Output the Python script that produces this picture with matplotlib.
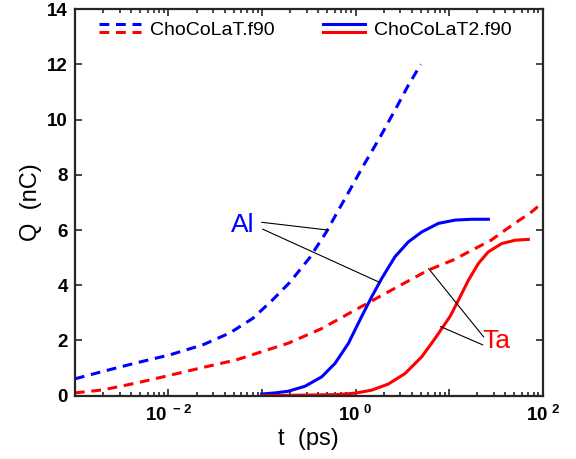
import numpy as np
import matplotlib
matplotlib.use('Agg')
import matplotlib.pyplot as plt
from matplotlib.legend_handler import HandlerBase
from matplotlib.lines import Line2D
from matplotlib.ticker import FixedLocator, LogLocator, NullFormatter, FuncFormatter

plt.rcParams['font.family'] = 'Liberation Sans'
plt.rcParams['mathtext.fontset'] = 'custom'
plt.rcParams['mathtext.rm'] = 'Liberation Sans:bold'
plt.rcParams['mathtext.bf'] = 'Liberation Sans:bold'

# ChoCoLaT.f90 (dashed)
t_al_v1 = [0.001, 0.002, 0.00457, 0.0104, 0.0233, 0.0453, 0.0798, 0.130, 0.198,
           0.324, 0.492, 0.630, 0.867, 1.19, 1.82, 2.75, 3.61, 4.98]
q_al_v1 = [0.61, 0.88, 1.19, 1.48, 1.84, 2.27, 2.80, 3.47, 4.10,
           5.00, 5.95, 6.61, 7.44, 8.28, 9.35, 10.45, 11.2, 12.0]
t_ta_v1 = [0.001, 0.002, 0.00457, 0.0104, 0.0233, 0.0537, 0.191, 0.435,
           0.989, 2.24, 6.01, 11.0, 28.1, 48.3, 76.6, 100.0]
q_ta_v1 = [0.10, 0.21, 0.46, 0.74, 1.02, 1.30, 1.90, 2.43,
           3.10, 3.76, 4.55, 4.91, 5.63, 6.20, 6.66, 7.00]

# ChoCoLaT2.f90 (solid)
t_al_v2 = [0.0993, 0.138, 0.191, 0.288, 0.435, 0.604, 0.838, 1.16, 1.49,
           1.91, 2.64, 3.67, 5.11, 7.69, 11.6, 17.5, 26.3]
q_al_v2 = [0.06, 0.10, 0.16, 0.34, 0.68, 1.17, 1.89, 2.86, 3.58,
           4.25, 5.03, 5.57, 5.93, 6.24, 6.36, 6.39, 6.39]
t_ta_v2 = [0.103, 0.288, 0.655, 0.989, 1.49, 2.24, 3.38, 5.11, 7.08, 8.36,
           10.3, 12.6, 16.1, 20.6, 26.3, 36.6, 50.8, 70.5]
q_ta_v2 = [0.0, 0.02, 0.04, 0.09, 0.20, 0.42, 0.80, 1.41, 2.07, 2.43,
           2.88, 3.46, 4.18, 4.79, 5.21, 5.51, 5.63, 5.66]


class StackedHandler(HandlerBase):
    # two short lines, one above the other, for each legend entry
    def create_artists(self, legend, orig_handle, xdescent, ydescent,
                       width, height, fontsize, trans):
        arts = []
        mid = -ydescent + height / 2.0
        for line, dy in zip(orig_handle, (3.0, -3.0)):
            l = Line2D([-xdescent, -xdescent + width], [mid + dy, mid + dy])
            l.update_from(line)
            l.set_transform(trans)
            arts.append(l)
        return arts


fig = plt.figure(figsize=(5.76, 4.59), dpi=100)
ax = fig.add_axes([0.130, 0.138, 0.812, 0.842])

lw = 2.2
dash = (3.2, 2.2)
l1, = ax.plot(t_al_v1, q_al_v1, color='#0000ff', lw=lw, dashes=dash)
l2, = ax.plot(t_ta_v1, q_ta_v1, color='#ff0000', lw=lw, dashes=dash)
l3, = ax.plot(t_al_v2, q_al_v2, color='#0000ff', lw=lw)
l4, = ax.plot(t_ta_v2, q_ta_v2, color='#ff0000', lw=lw)

ax.set_xscale('log')
ax.set_xlim(1e-3, 1e2)
ax.set_ylim(0, 14)
ax.set_yticks(np.arange(0, 15, 2))
ax.xaxis.set_major_locator(FixedLocator([1e-3, 1e-2, 1e-1, 1e0, 1e1, 1e2]))
ax.xaxis.set_minor_locator(LogLocator(base=10, subs=np.arange(2, 10)))
ax.xaxis.set_minor_formatter(NullFormatter())


def fmt_x(v, pos):
    e = int(round(np.log10(v)))
    if e % 2:
        return ''
    return r'$\mathbf{10^{\ %d}}$' % e


ax.xaxis.set_major_formatter(FuncFormatter(fmt_x))

for s in ax.spines.values():
    s.set_linewidth(1.6)
    s.set_color('#262626')
ax.tick_params(which='both', direction='in', top=True, right=True,
               color='#262626', width=1.2)
ax.tick_params(which='major', length=5, labelsize=13.5, pad=7)
ax.tick_params(which='minor', length=3)
for lab in ax.get_yticklabels():
    lab.set_fontweight('bold')
ax.tick_params(axis='y', pad=5)

ax.set_xlabel('t  (ps)', fontsize=17, labelpad=2)
ax.set_ylabel('Q  (nC)', fontsize=17, labelpad=4)

ax.legend([(l1, l2), (l3, l4)], ['ChoCoLaT.f90', 'ChoCoLaT2.f90'],
          handler_map={tuple: StackedHandler()}, ncol=2, frameon=False,
          fontsize=14, handlelength=2.15, handletextpad=0.45,
          columnspacing=2.5, loc='center', bbox_to_anchor=(0.4925, 0.946))

# labels for the two materials with leader lines onto the curves
ax.text(0.0624, 6.2, 'Al', color='#0000ff', fontsize=19, ha='center', va='center')
ax.plot([0.0995, 0.505], [6.28, 6.0], color='k', lw=0.8)
ax.plot([0.102, 1.82], [6.03, 4.1], color='k', lw=0.8)

ax.text(32.3, 1.99, 'Ta', color='#ff0000', fontsize=19, ha='center', va='center')
ax.plot([23.4, 6.05], [2.13, 4.6], color='k', lw=0.8)
ax.plot([22.9, 8.13], [1.84, 2.5], color='k', lw=0.8)

fig.savefig('out.png', dpi=100)
